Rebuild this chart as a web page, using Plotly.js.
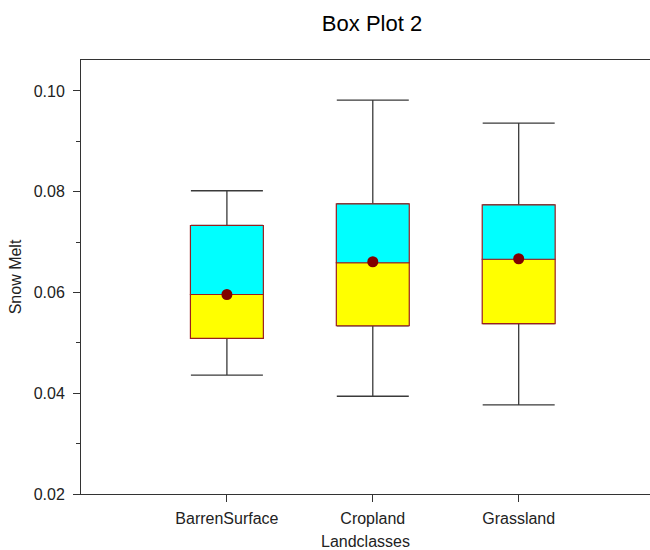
<!DOCTYPE html>
<html>
<head>
<meta charset="utf-8">
<script src="https://cdn.plot.ly/plotly-3.0.1.min.js"></script>
<style>
html, body { margin: 0; padding: 0; overflow: hidden; background: #fff; }
#chart { width: 650px; height: 550px; }
</style>
</head>
<body>
<div id="chart"></div>
<script>
var categories = ['BarrenSurface', 'Cropland', 'Grassland'];
var whiskerLow = [0.0436, 0.0394, 0.0377];
var q1 = [0.0509, 0.0534, 0.0538];
var median = [0.0596, 0.0659, 0.0666];
var q3 = [0.0733, 0.0776, 0.0774];
var whiskerHigh = [0.0802, 0.0982, 0.0936];
var means = [0.0596, 0.0661, 0.0667];

var yTicks = [0.02, 0.04, 0.06, 0.08, 0.10];
var yMinorTicks = [0.03, 0.05, 0.07, 0.09];

var boxEdge = '#9a1f1f';
var whiskerColor = '#3a3a3a';
var zeros = categories.map(function () { return 0; });

var upperWhisker = {
  type: 'bar', x: categories, base: q3, y: zeros, width: 0.5,
  marker: { color: 'rgba(0,0,0,0)', line: { width: 0 } },
  error_y: {
    type: 'data', symmetric: false,
    array: whiskerHigh.map(function (v, i) { return v - q3[i]; }),
    arrayminus: zeros, width: 36, thickness: 1.3, color: whiskerColor
  },
  hoverinfo: 'skip', showlegend: false
};
var lowerWhisker = {
  type: 'bar', x: categories, base: q1, y: zeros, width: 0.5,
  marker: { color: 'rgba(0,0,0,0)', line: { width: 0 } },
  error_y: {
    type: 'data', symmetric: false,
    array: zeros,
    arrayminus: q1.map(function (v, i) { return v - whiskerLow[i]; }),
    width: 36, thickness: 1.3, color: whiskerColor
  },
  hoverinfo: 'skip', showlegend: false
};
var lowerHalf = {
  type: 'bar', x: categories, base: q1,
  y: median.map(function (v, i) { return v - q1[i]; }),
  width: 0.5,
  marker: { color: '#ffff00', line: { color: boxEdge, width: 1.2 } },
  showlegend: false
};
var upperHalf = {
  type: 'bar', x: categories, base: median,
  y: q3.map(function (v, i) { return v - median[i]; }),
  width: 0.5,
  marker: { color: '#00ffff', line: { color: boxEdge, width: 1.2 } },
  showlegend: false
};
var meanDots = {
  type: 'scatter', mode: 'markers', x: categories, y: means,
  marker: { color: '#800000', size: 11 },
  showlegend: false
};

var layout = {
  width: 650, height: 550,
  margin: { l: 81, r: 0, t: 60, b: 56 },
  paper_bgcolor: '#fff', plot_bgcolor: '#fff',
  font: { family: 'Liberation Sans, Arial, sans-serif', color: '#222' },
  barmode: 'overlay',
  showlegend: false,
  title: {
    text: 'Box Plot 2', font: { size: 22, color: '#000' },
    x: 372 / 650, xref: 'container', xanchor: 'center',
    y: 1 - 23 / 550, yref: 'container', yanchor: 'middle'
  },
  xaxis: {
    type: 'category', range: [-1, 2.9],
    showline: true, mirror: true, linecolor: '#333', linewidth: 1,
    ticks: 'outside', ticklen: 7, tickcolor: '#333',
    ticklabelstandoff: 3,
    showgrid: false, zeroline: false,
    tickfont: { size: 16, color: '#222' },
    title: { text: 'Landclasses', font: { size: 16, color: '#222' }, standoff: 9 }
  },
  yaxis: {
    range: [0.02, 0.10615],
    tickvals: yTicks, tickformat: '.2f',
    showline: true, mirror: true, linecolor: '#333', linewidth: 1,
    ticks: 'outside', ticklen: 7, tickcolor: '#333',
    ticklabelstandoff: 5,
    minor: { tickvals: yMinorTicks, ticks: 'outside', ticklen: 4, tickcolor: '#333' },
    showgrid: false, zeroline: false,
    tickfont: { size: 16, color: '#222' },
    title: { text: 'Snow Melt', font: { size: 16, color: '#222' }, standoff: 8 }
  }
};

Plotly.newPlot('chart', [upperWhisker, lowerWhisker, lowerHalf, upperHalf, meanDots], layout,
  { displayModeBar: false, staticPlot: true });
</script>
</body>
</html>
